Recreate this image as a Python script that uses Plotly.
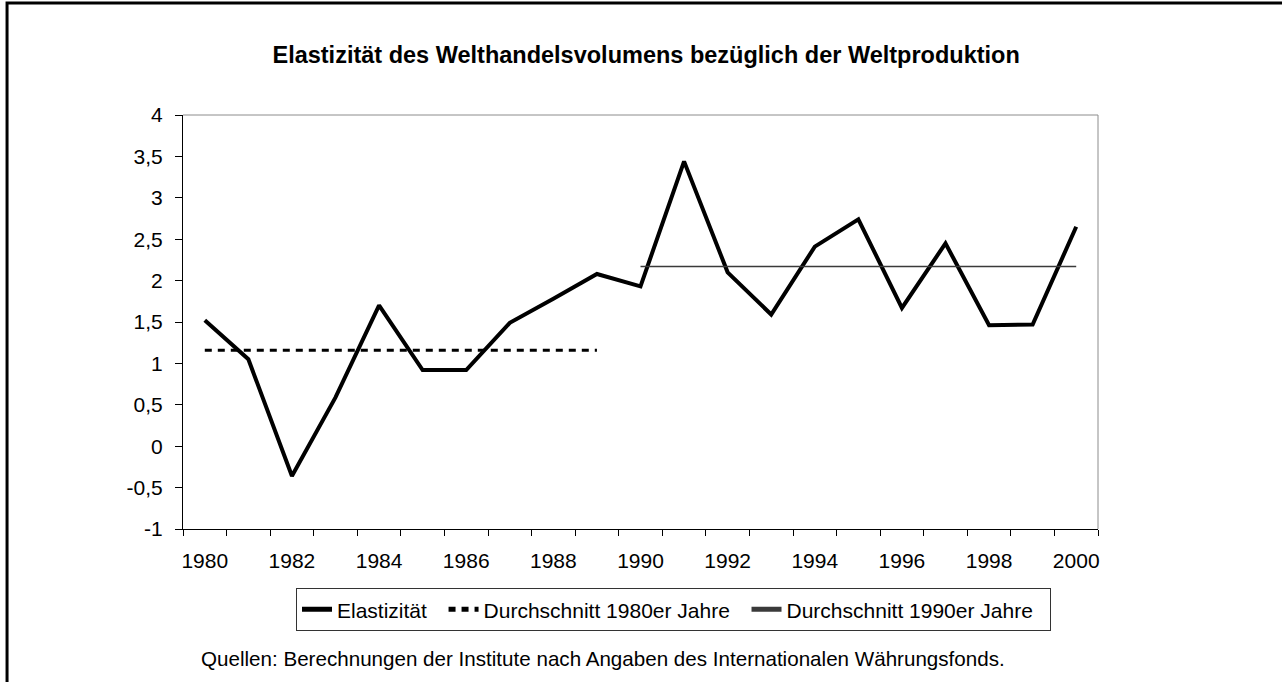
import plotly.graph_objects as go

# ---- data ----
years = [1980, 1981, 1982, 1983, 1984, 1985, 1986, 1987, 1988, 1989, 1990,
         1991, 1992, 1993, 1994, 1995, 1996, 1997, 1998, 1999, 2000]
elastizitaet = [1.52, 1.05, -0.36, 0.59, 1.70, 0.92, 0.92, 1.49, 1.78, 2.08, 1.93,
                3.44, 2.10, 1.59, 2.41, 2.74, 1.67, 2.45, 1.46, 1.47, 2.65]
years_80 = [1980, 1981, 1982, 1983, 1984, 1985, 1986, 1987, 1988, 1989]
avg_80 = [1.16, 1.16, 1.16, 1.16, 1.16, 1.16, 1.16, 1.16, 1.16, 1.16]
years_90 = [1990, 1991, 1992, 1993, 1994, 1995, 1996, 1997, 1998, 1999, 2000]
avg_90 = [2.17, 2.17, 2.17, 2.17, 2.17, 2.17, 2.17, 2.17, 2.17, 2.17, 2.17]

x_tickvals = [1980, 1982, 1984, 1986, 1988, 1990, 1992, 1994, 1996, 1998, 2000]
x_ticktext = ["1980", "1982", "1984", "1986", "1988", "1990", "1992", "1994", "1996", "1998", "2000"]
y_tickvals = [-1, -0.5, 0, 0.5, 1, 1.5, 2, 2.5, 3, 3.5, 4]
y_ticktext = ["-1", "-0,5", "0", "0,5", "1", "1,5", "2", "2,5", "3", "3,5", "4"]

series_names = ["Elastizität", "Durchschnitt 1980er Jahre", "Durchschnitt 1990er Jahre"]
title_text = "Elastizität des Welthandelsvolumens bezüglich der Weltproduktion"
source_text = "Quellen: Berechnungen der Institute nach Angaben des Internationalen Währungsfonds."

FONT = "Liberation Sans, Arial, sans-serif"
PAD = "\u00a0\u00a0"

fig = go.Figure()
fig.add_trace(go.Scatter(x=years, y=elastizitaet, mode="lines", name=series_names[0] + PAD,
                         line=dict(color="black", width=4)))
fig.add_trace(go.Scatter(x=years_80, y=avg_80, mode="lines", name=series_names[1] + PAD,
                         line=dict(color="black", width=3, dash="7px,6px")))
fig.add_trace(go.Scatter(x=years_90, y=avg_90, mode="lines", name=series_names[2] + PAD,
                         line=dict(color="#3a3a3a", width=1.5)))

fig.update_layout(
    width=1282, height=682,
    margin=dict(l=183, r=184, t=115, b=153),
    paper_bgcolor="white", plot_bgcolor="white",
    font=dict(family=FONT, size=21, color="black"),
    title=dict(text="<b>" + title_text + "</b>", xref="container", yref="container",
               x=0.504, y=0.919, xanchor="center", yanchor="middle",
               font=dict(family=FONT, size=23.5, color="black")),
    showlegend=True,
    legend=dict(orientation="h", xanchor="left", yanchor="top", x=0.1235, y=-0.143,
                bordercolor="#333333", borderwidth=1, bgcolor="white",
                font=dict(family=FONT, size=21, color="black"),
                itemsizing="constant", tracegroupgap=0),
    xaxis=dict(range=[1979.5, 2000.5], tickmode="array", tickvals=x_tickvals,
               ticktext=x_ticktext, ticks="", showgrid=False, zeroline=False,
               showline=True, linecolor="black", linewidth=1,
               ticklabelstandoff=13,
               minor=dict(tick0=1979.5, dtick=1, ticks="outside", ticklen=6,
                          tickcolor="black", tickwidth=1, showgrid=False),
               fixedrange=True),
    yaxis=dict(range=[-1, 4], tickmode="array", tickvals=y_tickvals, ticktext=y_ticktext,
               ticks="outside", ticklen=7, tickcolor="black", tickwidth=1,
               showgrid=False, zeroline=False, showline=True, linecolor="black",
               linewidth=1, ticklabelstandoff=8, fixedrange=True),
    shapes=[
        dict(type="line", xref="paper", yref="paper", x0=0, x1=1, y0=1, y1=1,
             line=dict(color="#8c8c8c", width=1)),
        dict(type="line", xref="paper", yref="paper", x0=1, x1=1, y0=0, y1=1,
             line=dict(color="#8c8c8c", width=1)),
        dict(type="rect", xref="paper", yref="paper", x0=-0.1923, x1=1.22, y0=-0.40, y1=1.2705,
             line=dict(color="black", width=3), fillcolor="rgba(0,0,0,0)", layer="below"),
    ],
    annotations=[
        dict(text=source_text, xref="paper", yref="paper", x=0.0175, y=-0.3116,
             xanchor="left", yanchor="middle", showarrow=False,
             font=dict(family=FONT, size=20.6, color="black")),
    ],
)

fig.write_html("out.html", config={"displayModeBar": False},
               post_script="document.body.style.margin='0';document.body.style.overflow='hidden';")
